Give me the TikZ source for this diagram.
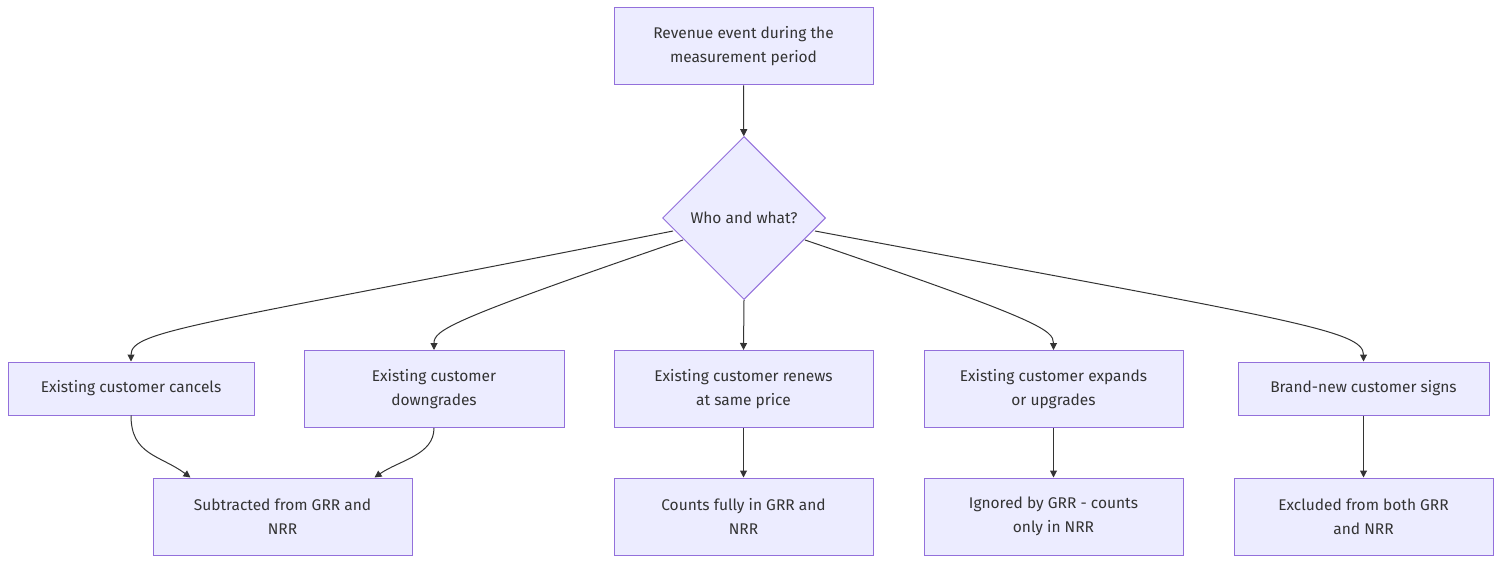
\documentclass[tikz,border=0pt]{standalone}
\usepackage{fontspec}
\setmainfont{Fira Sans}
\usetikzlibrary{shapes.geometric,arrows.meta,calc}
\definecolor{nfill}{HTML}{ECECFF}
\definecolor{nline}{HTML}{9370DB}
\definecolor{eline}{HTML}{333333}
\begin{document}
\begin{tikzpicture}[x=1pt,y=-1pt,
  box/.style={draw=nline,fill=nfill,line width=1pt,align=center,font=\fontsize{15.5}{24}\selectfont,text=eline,inner sep=0pt,minimum height=#1},
  box/.default=77,
  e/.style={draw=eline,line width=1pt,-{Triangle[length=7pt,width=7pt]}}]
\useasboundingbox (0,0) rectangle (1502,564);
\node[box,minimum width=259] (top) at (743.5,46.5) {Revenue event during the\\measurement period};
\node[diamond,draw=nline,fill=nfill,line width=1pt,minimum width=163,minimum height=163,inner sep=0pt,font=\fontsize{15.5}{24}\selectfont,text=eline] (d) at (744,218) {Who and what?};
\node[box=53,minimum width=246] (a) at (131,388.5) {Existing customer cancels};
\node[box,minimum width=260] (b) at (434,389) {Existing customer\\downgrades};
\node[box,minimum width=259] (c) at (743.5,389) {Existing customer renews\\at same price};
\node[box,minimum width=259] (dd) at (1053.5,389) {Existing customer expands\\or upgrades};
\node[box=53,minimum width=251] (e) at (1363.5,388.5) {Brand-new customer signs};
\node[box,minimum width=259] (f) at (282.5,516.5) {Subtracted from GRR and\\NRR};
\node[box,minimum width=259] (g) at (743.5,516.5) {Counts fully in GRR and\\NRR};
\node[box,minimum width=259] (h) at (1053.5,516.5) {Ignored by GRR - counts\\only in NRR};
\node[box,minimum width=259] (i) at (1363.5,516.5) {Excluded from both GRR\\and NRR};
\draw[e] (top) -- (d);
\draw[e] ($(d)+(-71,13)$) .. controls (200,325) and (131,330) .. (a.north);
\draw[e] ($(d)+(-61,22)$) .. controls (450,320) and (434,330) .. (b.north);
\draw[e] (d.south) -- (c.north);
\draw[e] ($(d)+(61,22)$) .. controls (1040,320) and (1053.5,330) .. (dd.north);
\draw[e] ($(d)+(71,13)$) .. controls (1290,320) and (1363.5,330) .. (e.north);
\draw[e] (a.south) .. controls (131,455) and (160,455) .. ($(f.north)+(-92,0)$);
\draw[e] (b.south) .. controls (434,455) and (400,460) .. ($(f.north)+(92,0)$);
\draw[e] (c) -- (g);
\draw[e] (dd) -- (h);
\draw[e] (e) -- (i);
\end{tikzpicture}
\end{document}
